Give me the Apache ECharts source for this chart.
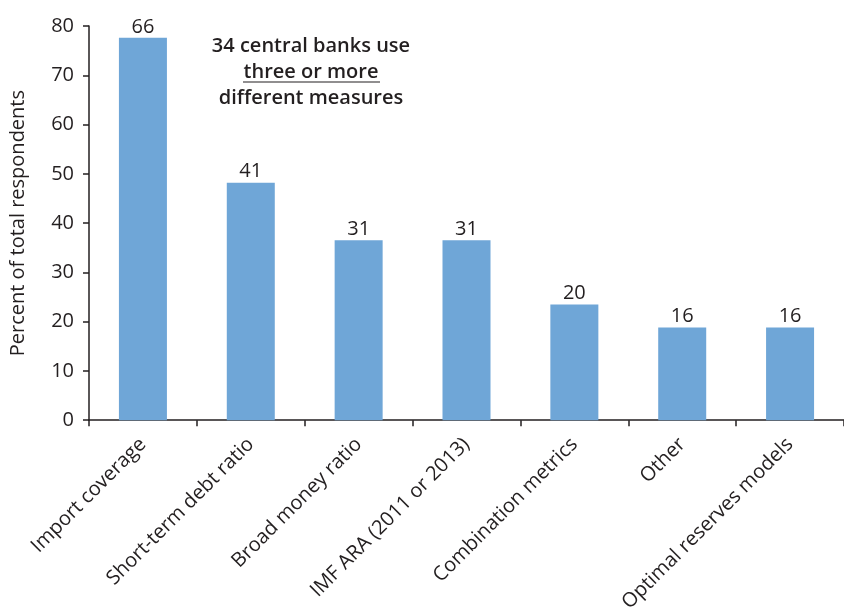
<!DOCTYPE html>
<html>
<head>
<meta charset="utf-8">
<script src="https://cdn.jsdelivr.net/npm/echarts@6/dist/echarts.min.js"></script>
<style>html,body{margin:0;padding:0;background:#fff}#c{width:844px;height:615px}</style>
</head>
<body>
<div id="c"></div>
<script>
const categories = ['Import coverage', 'Short-term debt ratio', 'Broad money ratio', 'IMF ARA (2011 or 2013)', 'Combination metrics', 'Other', 'Optimal reserves models'];
const percentValues = [77.6, 48.2, 36.5, 36.5, 23.5, 18.8, 18.8];
const countLabels = [66, 41, 31, 31, 20, 16, 16];
const yTicks = { min: 0, max: 80, interval: 10 };
const yAxisName = 'Percent of total respondents';
const noteLines = ['34 central banks use', 'three or more', 'different measures'];

const txt = '#231f20';
const font = 'Open Sans';
const noteFont = '600 20px "Open Sans"';
const chart = echarts.init(document.getElementById('c'));
chart.setOption({
  animation: false,
  textStyle: { fontFamily: font },
  grid: { left: 89, top: 26, width: 759, height: 395, containLabel: false },
  xAxis: {
    type: 'category',
    data: categories,
    axisLine: { lineStyle: { color: txt, width: 1.5 } },
    axisTick: { show: true, length: 6, lineStyle: { color: txt, width: 1.5 } },
    axisLabel: { rotate: 45, color: txt, fontSize: 20, fontFamily: font, margin: 21, interval: 0 }
  },
  yAxis: {
    type: 'value',
    min: yTicks.min, max: yTicks.max, interval: yTicks.interval,
    name: yAxisName,
    nameLocation: 'middle',
    nameGap: 61,
    nameTextStyle: { color: txt, fontSize: 20, fontFamily: font },
    splitLine: { show: false },
    axisLine: { show: true, lineStyle: { color: txt, width: 1.5 } },
    axisTick: { show: true, length: 6, lineStyle: { color: txt, width: 1.5 } },
    axisLabel: { color: txt, fontSize: 20, fontFamily: font, margin: 15 }
  },
  series: [{
    type: 'bar',
    data: percentValues.map((v, i) => ({ value: v, label: { formatter: String(countLabels[i]) } })),
    barWidth: 48,
    itemStyle: { color: '#6fa6d7' },
    label: { show: true, position: 'top', distance: 1, color: txt, fontSize: 20, fontFamily: font }
  }],
  graphic: [
    { type: 'text', x: 311, y: 46, style: { text: noteLines[0], fill: txt, font: noteFont, align: 'center', verticalAlign: 'middle' } },
    { type: 'text', x: 311, y: 72, style: { text: noteLines[1], fill: txt, font: noteFont, align: 'center', verticalAlign: 'middle' } },
    { type: 'text', x: 311, y: 98, style: { text: noteLines[2], fill: txt, font: noteFont, align: 'center', verticalAlign: 'middle' } },
    { type: 'line', shape: { x1: 243, y1: 82, x2: 380, y2: 82 }, style: { stroke: txt, lineWidth: 1.2 } }
  ]
});
</script>
</body>
</html>
